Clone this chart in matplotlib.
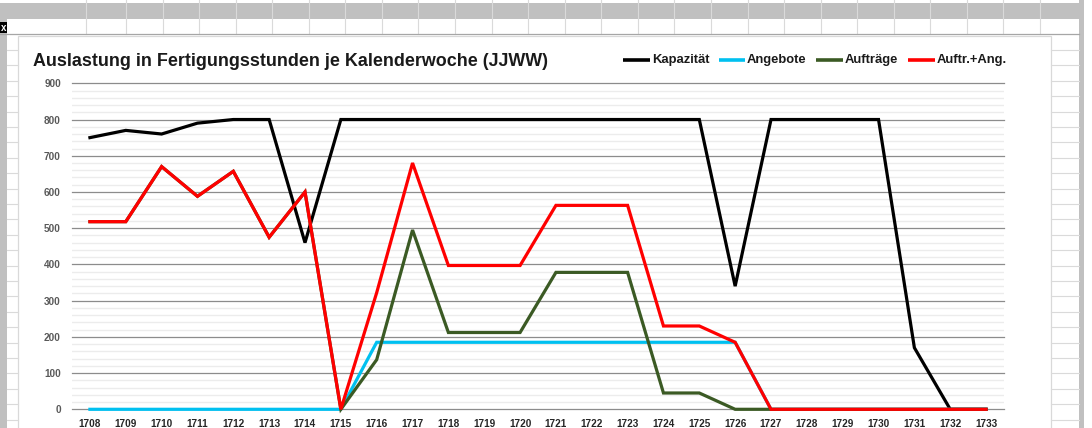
import matplotlib
matplotlib.use("Agg")
import matplotlib.pyplot as plt
from matplotlib.patches import Rectangle
from matplotlib.lines import Line2D
import numpy as np

weeks = ["1708", "1709", "1710", "1711", "1712", "1713", "1714", "1715", "1716",
         "1717", "1718", "1719", "1720", "1721", "1722", "1723", "1724", "1725",
         "1726", "1727", "1728", "1729", "1730", "1731", "1732", "1733"]
kapazitaet = [750, 770, 760, 790, 800, 800, 460, 800, 800, 800, 800, 800, 800,
              800, 800, 800, 800, 800, 340, 800, 800, 800, 800, 170, 0, 0]
angebote = [0, 0, 0, 0, 0, 0, 0, 0, 185, 185, 185, 185, 185, 185, 185, 185,
            185, 185, 185, 0, 0, 0, 0, 0, 0, 0]
auftraege = [518, 518, 670, 588, 657, 475, 600, 0, 137, 495, 212, 212, 212,
             378, 378, 378, 45, 45, 0, 0, 0, 0, 0, 0, 0, 0]
auftr_ang = [518, 518, 670, 588, 657, 475, 600, 0, 322, 680, 397, 397, 397,
             563, 563, 563, 230, 230, 185, 0, 0, 0, 0, 0, 0, 0]

series_names = ["Kapazität", "Angebote", "Aufträge", "Auftr.+Ang."]
series_colors = ["#000000", "#00C0F0", "#3B5A24", "#FF0000"]
series_values = [kapazitaet, angebote, auftraege, auftr_ang]
y_ticks = [0, 100, 200, 300, 400, 500, 600, 700, 800, 900]

W, H = 1092, 428
FONT = "Liberation Sans"
fig = plt.figure(figsize=(W / 100, H / 100), dpi=100)
fig.patch.set_facecolor("white")

# ---- spreadsheet background (pixel coordinates) ----
bg = fig.add_axes([0, 0, 1, 1], zorder=0)
bg.set_xlim(0, W)
bg.set_ylim(H, 0)
bg.axis("off")
cell = "#DADADA"
col_x = [86] + list(np.linspace(126, 1040, 26))
for x in col_x:
    bg.plot([x, x], [0, 34], color=cell, lw=0.8)
for y in np.arange(50, H, 15.4):
    bg.plot([7, 18], [y, y], color=cell, lw=0.8)
    bg.plot([1051, 1079], [y, y], color=cell, lw=0.8)
bg.add_patch(Rectangle((0, 3.4), 1083.5, 15.3, color="#C0C0C0", lw=0))
bg.add_patch(Rectangle((0, 18.7), 7, H, color="#C0C0C0", lw=0))
bg.add_patch(Rectangle((1079, 0), 4.5, H, color="#C0C0C0", lw=0))
bg.plot([0, 1079], [34, 34], color="#A6A6A6", lw=0.9)
bg.add_patch(Rectangle((0, 21.5), 7, 11.5, color="black", lw=0))
bg.text(3.5, 27.5, "x", color="white", fontsize=7, ha="center", va="center",
        fontweight="bold", family=FONT)
# chart area
bg.add_patch(Rectangle((18, 36), 1033, H, facecolor="white",
                       edgecolor="#D9D9D9", lw=0.9))

# title
bg.text(33, 61, "Auslastung in Fertigungsstunden je Kalenderwoche (JJWW)",
        fontsize=12.9, fontweight="bold", family=FONT, color="#1A1A1A",
        ha="left", va="center")

# legend (manual, Excel style)
leg_pos = [(623, 650, 652), (719, 745, 747), (816, 843, 845), (908, 935, 937)]
for (x0, x1, xt), name, col in zip(leg_pos, series_names, series_colors):
    bg.add_line(Line2D([x0, x1], [59.5, 59.5], color=col, lw=2.6,
                       solid_capstyle="butt"))
    bg.text(xt, 59.5, name, fontsize=9.4, fontweight="bold", family=FONT,
            color="#1A1A1A", ha="left", va="center")

# ---- plot area ----
left, right = 72 / W, 1004 / W
bottom, top = 1 - 409.3 / H, 1 - 83.3 / H
ax = fig.add_axes([left, bottom, right - left, top - bottom], zorder=1)
ax.set_facecolor("none")
x = np.arange(len(weeks))
ax.set_xlim(-0.5, len(weeks) - 0.5)
ax.set_ylim(0, 900)

for y in np.arange(0, 901, 20):
    if y % 100 == 0:
        continue
    ax.axhline(y, color="#ECECEC", lw=1.0, zorder=0)
for y in y_ticks:
    ax.axhline(y, color="#8C8C8C", lw=0.9, zorder=0.5, clip_on=False)

for vals, col in zip(series_values, series_colors):
    ax.plot(x, vals, color=col, lw=2.3, solid_joinstyle="miter",
            clip_on=False, zorder=2)

for s in ax.spines.values():
    s.set_visible(False)
ax.set_xticks(x)
ax.set_xticklabels(weeks)
ax.set_yticks(y_ticks)
ax.set_yticklabels([str(v) for v in y_ticks])
ax.tick_params(axis="both", length=0)
ax.tick_params(axis="x", pad=7)
ax.tick_params(axis="y", pad=8)
for lab in ax.get_xticklabels():
    lab.set_fontsize(7.2)
    lab.set_fontweight("bold")
    lab.set_family(FONT)
    lab.set_color("#262626")
for lab in ax.get_yticklabels():
    lab.set_fontsize(7.2)
    lab.set_fontweight("bold")
    lab.set_family(FONT)
    lab.set_color("#595959")

fig.savefig("out.png", dpi=100)
